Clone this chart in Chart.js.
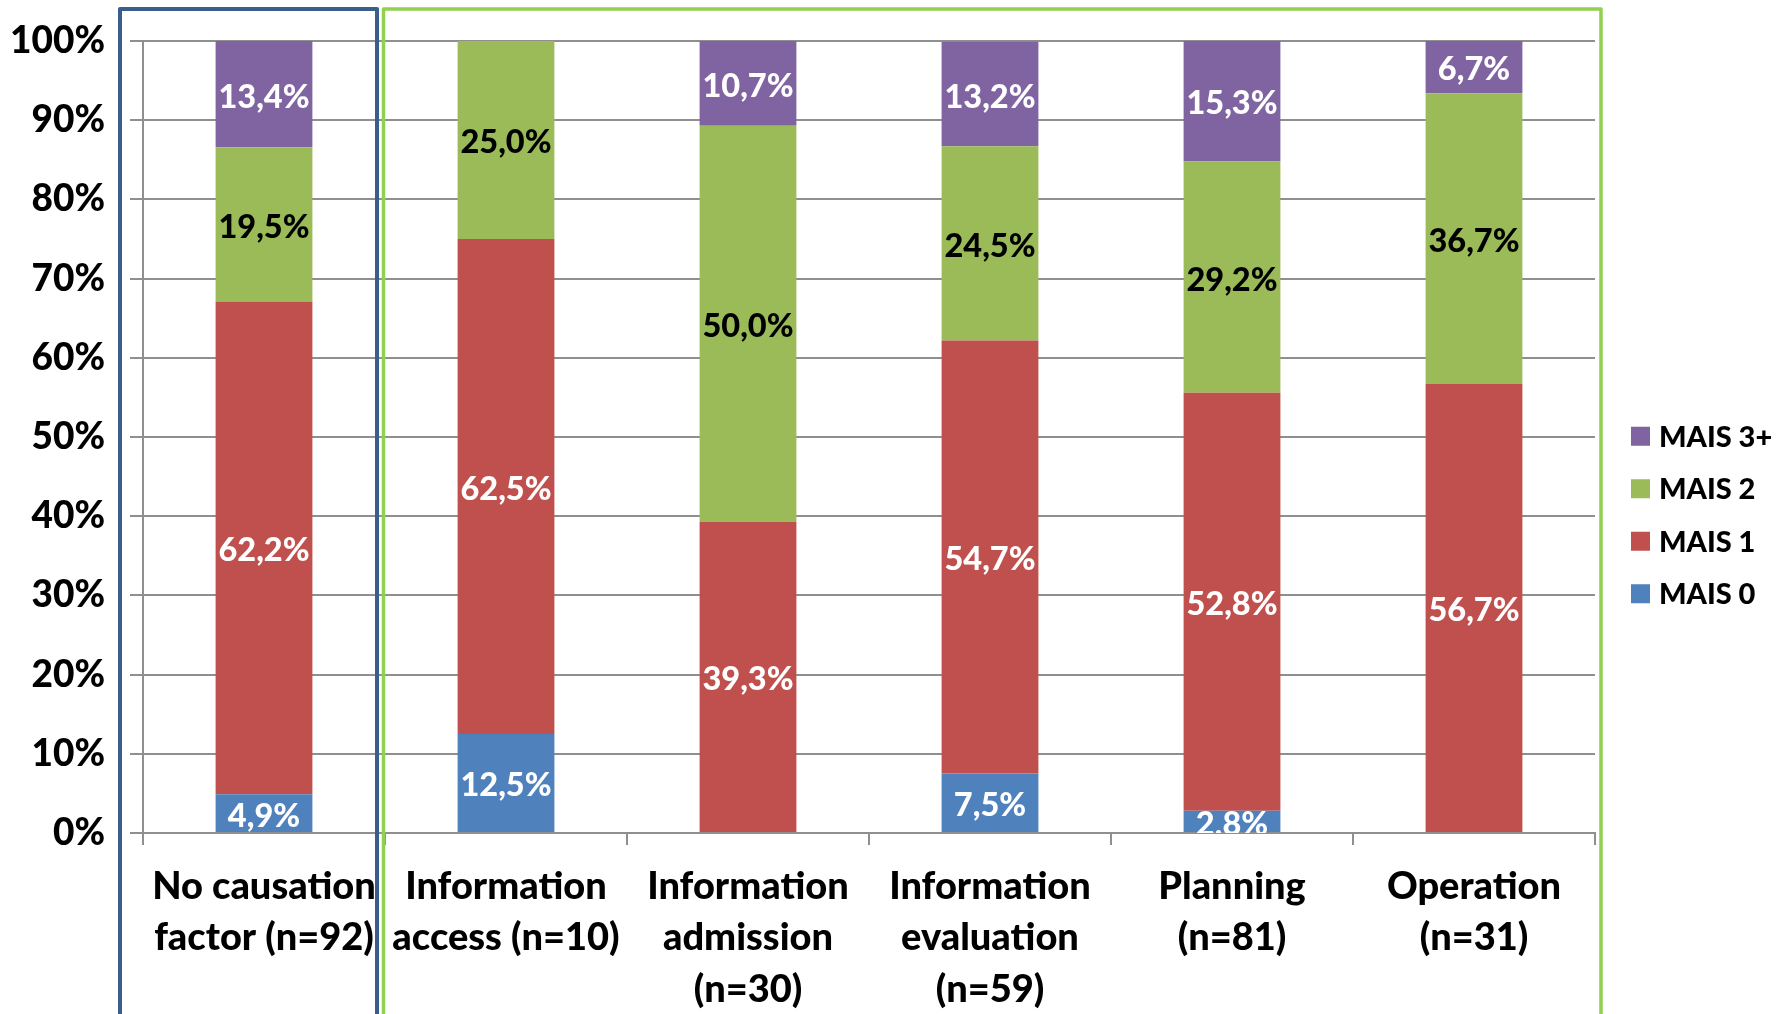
<!DOCTYPE html>
<html>
<head>
<meta charset="utf-8">
<script src="https://cdn.jsdelivr.net/npm/chart.js@4.4.1/dist/chart.umd.min.js"></script>
<style>
  html, body { margin: 0; padding: 0; background: #fff; }
  #wrap { width: 1784px; height: 1014px; }
</style>
</head>
<body>
<div id="wrap"><canvas id="c" width="1784" height="1014"></canvas></div>
<script>
// Injury severity (MAIS) share per causation factor
const categories = [
  ['No causation', 'factor (n=92)'],
  ['Information', 'access (n=10)'],
  ['Information', 'admission', '(n=30)'],
  ['Information', 'evaluation', '(n=59)'],
  ['Planning', '(n=81)'],
  ['Operation', '(n=31)']
];
const mais0  = [4.9, 12.5, 0,    7.5,  2.8,  0];
const mais1  = [62.2, 62.5, 39.3, 54.7, 52.8, 56.7];
const mais2  = [19.5, 25.0, 50.0, 24.5, 29.2, 36.7];
const mais3p = [13.4, 0,    10.7, 13.2, 15.3, 6.7];
const yTicks = [0, 10, 20, 30, 40, 50, 60, 70, 80, 90, 100];

const FONT = 'Lato, "Open Sans", sans-serif';
const GRID = '#8f8f8f';

const series = [
  { label: 'MAIS 0',  data: mais0,  color: '#4F81BD', text: '#ffffff' },
  { label: 'MAIS 1',  data: mais1,  color: '#C0504D', text: '#ffffff' },
  { label: 'MAIS 2',  data: mais2,  color: '#9BBB59', text: '#000000' },
  { label: 'MAIS 3+', data: mais3p, color: '#8064A2', text: '#ffffff' }
];

// value labels centred in each stacked segment
const segmentLabels = {
  id: 'segmentLabels',
  afterDatasetsDraw(chart) {
    const { ctx, chartArea } = chart;
    ctx.save();
    ctx.beginPath();
    ctx.rect(chartArea.left, chartArea.top, chartArea.right - chartArea.left, chartArea.bottom - chartArea.top);
    ctx.clip();
    ctx.font = '900 32.5px ' + FONT;
    ctx.textAlign = 'center';
    ctx.textBaseline = 'middle';
    chart.data.datasets.forEach((ds, i) => {
      const meta = chart.getDatasetMeta(i);
      meta.data.forEach((el, j) => {
        const v = ds.data[j];
        if (!v) return;
        const p = el.getProps(['x', 'y', 'base'], true);
        ctx.fillStyle = series[i].text;
        ctx.fillText(v.toFixed(1).replace('.', ',') + '%', p.x, (p.y + p.base) / 2 + 3);
      });
    });
    ctx.restore();
  }
};

// group frames and legend
const decorations = {
  id: 'decorations',
  afterDraw(chart) {
    const { ctx } = chart;
    const x = chart.scales.x;
    const split = (x.getPixelForValue(0) + x.getPixelForValue(1)) / 2;
    ctx.save();
    ctx.lineJoin = 'round';
    ctx.strokeStyle = '#3A5E8C';
    ctx.lineWidth = 4;
    ctx.beginPath();
    ctx.moveTo(x.left - 23, chart.height + 10);
    ctx.lineTo(x.left - 23, 9);
    ctx.lineTo(split - 8, 9);
    ctx.lineTo(split - 8, chart.height + 10);
    ctx.stroke();
    ctx.strokeStyle = '#92D050';
    ctx.lineWidth = 3.5;
    ctx.beginPath();
    ctx.moveTo(split - 1.5, chart.height + 10);
    ctx.lineTo(split - 1.5, 9);
    ctx.lineTo(x.right + 6, 9);
    ctx.lineTo(x.right + 6, chart.height + 10);
    ctx.stroke();

    // legend, top item is the last stack segment
    const lx = x.right + 36;
    const cy = chart.height / 2 + 8;
    const step = 52.5;
    ctx.font = '900 29px ' + FONT;
    ctx.textBaseline = 'middle';
    ctx.textAlign = 'left';
    const order = series.slice().reverse();
    order.forEach((s, k) => {
      const yy = cy + (k - 1.5) * step;
      ctx.fillStyle = s.color;
      ctx.fillRect(lx, yy - 9.5, 19, 19);
      ctx.fillStyle = '#000';
      ctx.fillText(s.label, lx + 28, yy + 1);
    });
    ctx.restore();
  }
};

new Chart(document.getElementById('c'), {
  type: 'bar',
  data: {
    labels: categories,
    datasets: series.map(s => ({
      label: s.label,
      data: s.data,
      backgroundColor: s.color,
      borderWidth: 0,
      barPercentage: 0.4,
      categoryPercentage: 1
    }))
  },
  options: {
    responsive: false,
    animation: false,
    layout: { padding: { top: 41, right: 189, left: 0, bottom: 0 } },
    plugins: { legend: { display: false }, tooltip: { enabled: false } },
    scales: {
      x: {
        stacked: true,
        offset: true,
        grid: { offset: true, drawOnChartArea: false, tickLength: 12, color: GRID, lineWidth: 2 },
        border: { color: GRID, width: 2 },
        ticks: { color: '#000', font: { family: FONT, size: 38, weight: '900', lineHeight: 1.35 }, padding: 16, maxRotation: 0, autoSkip: false },
        afterFit(s) { s.height = 181; }
      },
      y: {
        stacked: true,
        min: 0,
        max: 100,
        afterBuildTicks(s) { s.ticks = yTicks.map(v => ({ value: v })); },
        grid: { tickLength: 13, color: GRID, lineWidth: 2 },
        border: { color: GRID, width: 2 },
        ticks: { color: '#000', font: { family: FONT, size: 37, weight: '900' }, padding: 25, callback: v => v + '%' },
        afterFit(s) { s.width = 143; s.paddingTop = 0; s.paddingBottom = 0; }
      }
    }
  },
  plugins: [segmentLabels, decorations]
});
</script>
</body>
</html>
